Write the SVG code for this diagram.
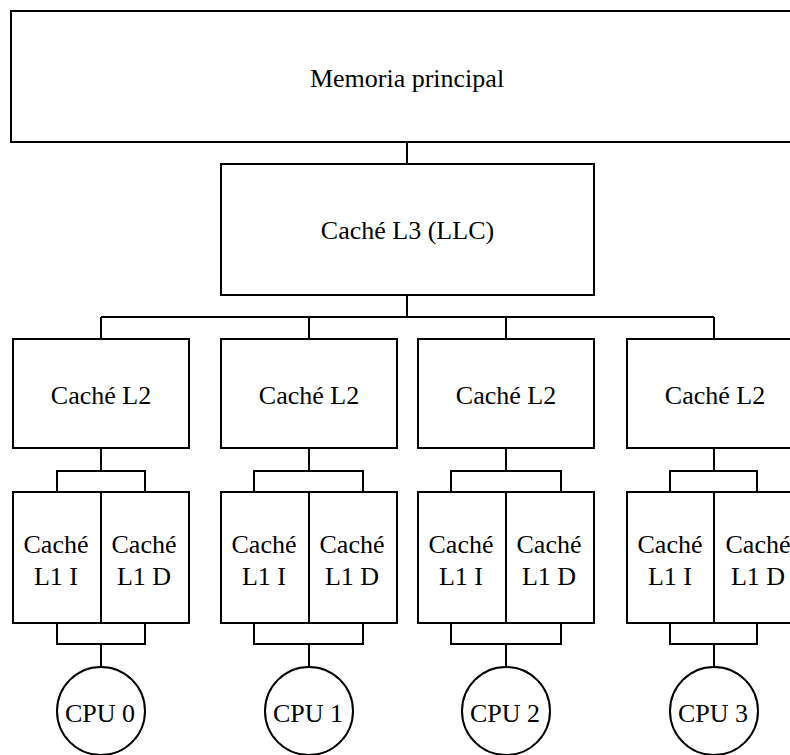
<svg xmlns="http://www.w3.org/2000/svg" width="790" height="755" viewBox="0 0 790 755">
<style>
rect, circle { fill: #ffffff; stroke: #000000; stroke-width: 2; }
.c path, .div { fill: none; stroke: #000000; stroke-width: 2; }
text { font-family: "Liberation Serif", "DejaVu Serif", serif; font-size: 26px; fill: #000000; text-anchor: middle; }
.sm { font-family: "DejaVu Serif", serif; font-size: 22px; }
</style>
<rect x="0" y="0" width="790" height="755" style="fill:#ffffff;stroke:none"/>
<g class="c" id="connectors">
<path d="M407 142V164M407 295V317M101 317H714M101 317V339M309 317V339M506 317V339M714 317V339"/>
<path d="M101 448V471M57 492V471H145V492M57 623V644H145V623M101 644V667"/>
<path d="M309 448V471M254 492V471H363V492M254 623V644H363V623M309 644V667"/>
<path d="M506 448V471M451 492V471H561V492M451 623V644H561V623M506 644V667"/>
<path d="M714 448V471M670 492V471H757V492M670 623V644H757V623M714 644V667"/>
</g>
<g id="memoria"><rect x="11" y="11" width="800" height="131"/><text x="407" y="87">Memoria principal</text></g>
<g id="l3"><rect x="221" y="164" width="373" height="131"/><text x="407.5" y="239">Caché L3 (LLC)</text></g>
<g id="l2-0"><rect x="13" y="339" width="176" height="109"/><text x="101" y="404">Caché L2</text></g>
<g id="l2-1"><rect x="221" y="339" width="176" height="109"/><text x="309" y="404">Caché L2</text></g>
<g id="l2-2"><rect x="418" y="339" width="176" height="109"/><text x="506" y="404">Caché L2</text></g>
<g id="l2-3"><rect x="627" y="339" width="176" height="109"/><text x="715" y="404">Caché L2</text></g>
<g id="l1-0"><rect x="13" y="492" width="176" height="131"/><path class="div" d="M101 492V623"/><text x="56" y="553">Caché</text><text x="56" y="585">L1 I</text><text x="144" y="553">Caché</text><text x="144" y="585">L1 D</text></g>
<g id="l1-1"><rect x="221" y="492" width="176" height="131"/><path class="div" d="M309 492V623"/><text x="264" y="553">Caché</text><text x="264" y="585">L1 I</text><text x="352" y="553">Caché</text><text x="352" y="585">L1 D</text></g>
<g id="l1-2"><rect x="418" y="492" width="176" height="131"/><path class="div" d="M506 492V623"/><text x="461" y="553">Caché</text><text x="461" y="585">L1 I</text><text x="549" y="553">Caché</text><text x="549" y="585">L1 D</text></g>
<g id="l1-3"><rect x="627" y="492" width="176" height="131"/><path class="div" d="M714 492V623"/><text x="670" y="553">Caché</text><text x="670" y="585">L1 I</text><text x="758" y="553">Caché</text><text x="758" y="585">L1 D</text></g>
<g id="cpu0"><circle cx="101" cy="711" r="44"/><text x="100" y="722">CPU 0</text></g>
<g id="cpu1"><circle cx="309" cy="711" r="44"/><text x="308" y="722">CPU 1</text></g>
<g id="cpu2"><circle cx="506" cy="711" r="44"/><text x="505" y="722">CPU 2</text></g>
<g id="cpu3"><circle cx="714" cy="711" r="44"/><text x="713" y="722">CPU 3</text></g>
</svg>
